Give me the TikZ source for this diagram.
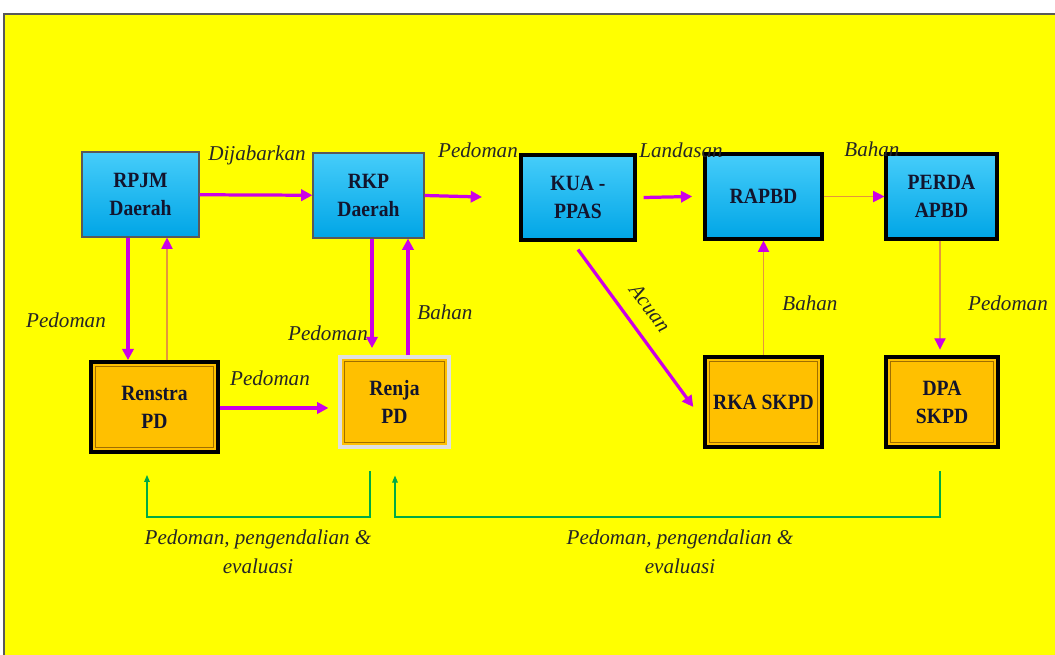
\documentclass[tikz,border=0pt]{standalone}
\usepackage{fontspec}
\setmainfont{Liberation Serif}
\newfontfamily\boxfont{Liberation Serif}[FakeStretch=0.9]
\usepackage{xcolor}
\usepackage{tikz}
\usetikzlibrary{arrows.meta,positioning}
\definecolor{bg}{RGB}{255,255,0}
\definecolor{mag}{RGB}{204,0,230}
\definecolor{tan}{RGB}{228,150,60}
\definecolor{grn}{RGB}{0,170,70}
\definecolor{ink}{RGB}{18,20,45}
\definecolor{bluetop}{RGB}{70,205,250}
\definecolor{bluebot}{RGB}{0,165,230}
\definecolor{orng}{RGB}{255,192,0}
\definecolor{frame}{RGB}{160,110,0}
\tikzset{
  blue/.style={draw=gray!70!black, line width=0.8pt, top color=bluetop,
  bottom color=bluebot, text=ink, align=center, minimum height=2.125cm,
  font=\boxfont\fontsize{15.5}{20}\selectfont\bfseries},
  bluebold/.style={blue, draw=black, line width=2.2pt},
  gold/.style={draw=black, line width=2.6pt, fill=orng, text=ink, align=center,
  minimum height=2.25cm, font=\boxfont\fontsize{15.5}{20}\selectfont\bfseries},
  innerframe/.style={draw=frame, line width=0.9pt},
  lbl/.style={font=\fontsize{15}{20.5}\selectfont\itshape, text=black!85,
  inner sep=1pt, align=center},
  thickarrow/.style={draw=mag, line width=2.3pt, -{Triangle[length=8pt,width=8pt]}},
  thinarrow/.style={draw=tan, line width=0.8pt,
  -{Triangle[length=8pt,width=8pt,color=mag]}},
  feedback/.style={draw=grn, line width=0.8pt, -{Triangle[length=5pt,width=4pt]}}
}
\begin{document}
\begin{tikzpicture}[x=0.025cm, y=-0.025cm]
    \useasboundingbox (0,0) rectangle (1055,655);
    \fill[white] (0,0) rectangle (1055,655);
    \fill[bg] (4,14) rectangle (1055,655);
    \draw[gray!70!black, line width=0.8pt] (4,655) -- (4,14) -- (1055,14);
    % top row
    \node (RPJM) [blue, minimum width=2.925cm] at (140.5,194.5) {RPJM\\Daerah};
    \node (RKP) [blue, minimum width=2.775cm] at (368.5,195.5) {RKP\\Daerah};
    \node (KUA) [bluebold, minimum width=2.85cm] at (578,197.5) {KUA -\\PPAS};
    \node (RAPBD) [bluebold, minimum width=2.925cm] at (763.5,196.5) {RAPBD};
    \node (PERDA) [bluebold, minimum width=2.775cm] at (941.5,196.5) {PERDA\\APBD};
    % bottom row
    \node (RENSTRA) [gold, minimum width=3.17cm] at (154.5,407) {Renstra\\PD};
    \node (RENJA) [gold, draw=white!88!black, minimum width=2.72cm] at (394.5,402) {Renja\\PD};
    \node (RKA) [gold, minimum width=2.925cm] at (763.5,402) {RKA SKPD};
    \node (DPA) [gold, minimum width=2.8cm] at (942,402) {DPA\\SKPD};
    \foreach \n in {RENSTRA,RENJA,RKA,DPA}
      \draw[innerframe] ([shift={(6,6)}]\n.north west) rectangle
      ([shift={(-6,-6)}]\n.south east);
    % lanes
    \coordinate (xa) at (128,0);
    \coordinate (xb) at (167,0);
    \coordinate (xc) at (372,0);
    \coordinate (xd) at (408,0);
    \coordinate (xe) at (147,0);
    \coordinate (xf) at (370,0);
    \coordinate (xg) at (395,0);
    \coordinate (xh) at (940,0);
    \coordinate (yb) at (0,517);
    \coordinate (P) at (482,197);
    % connectors
    \path (RPJM) edge [thickarrow] (RKP);
    \path (RKP.east) edge [thickarrow] (P);
    \path ([xshift=5pt]KUA.east) edge [thickarrow] ([xshift=-8pt]RAPBD.west);
    \path (RAPBD) edge [thinarrow] (PERDA);
    \path (RPJM.south -| xa) edge [thickarrow] (RENSTRA.north -| xa);
    \path (RENSTRA.north -| xb) edge [thinarrow] (RPJM.south -| xb);
    \path (RKP.south -| xc) edge [thickarrow] ([yshift=5pt]RENJA.north -| xc);
    \path (RENJA.north -| xd) edge [thickarrow] (RKP.south -| xd);
    \path (RENSTRA.east |- 0,408) edge [thickarrow] ([xshift=-7pt]RENJA.west |- 0,408);
    \path ([shift={(0,8)}]KUA.south) edge [thickarrow] ([xshift=-7pt]RKA.west |- 0,407);
    \path (RKA) edge [thinarrow] (RAPBD);
    \path (PERDA.south -| xh) edge [thinarrow] ([yshift=4pt]DPA.north -| xh);
    % feedback
    \draw[feedback, shorten <=16pt] (RENJA.south -| xf) -- (xf |- yb) -- (xe |- yb)
      -- ([yshift=-15pt]RENSTRA.south -| xe);
    \draw[feedback, shorten <=16pt] (DPA.south -| xh) -- (xh |- yb) -- (xg |- yb)
      -- ([yshift=-19pt]RENJA.south -| xg);
    % labels
    \node (L1) [lbl] at (257,155) {Dijabarkan};
    \node (L2) [lbl] at (478,150) {Pedoman};
    \node (L3) [lbl] at (681,150) {Landasan};
    \node (L4) [lbl] at (872,149) {Bahan};
    \node (L5) [lbl] at (66,320) {Pedoman};
    \node (L6) [lbl] at (270,378) {Pedoman};
    \node (L7) [lbl] at (328,333) {Pedoman};
    \node (L8) [lbl] at (445,312) {Bahan};
    \node (L9) [lbl, rotate=-53] at (650,308) {Acuan};
    \node (L10) [lbl] at (810,303) {Bahan};
    \node (L11) [lbl] at (1008,303) {Pedoman};
    \node (L12) [lbl] at (258,552) {Pedoman, pengendalian \&\\evaluasi};
    \node (L13) [lbl] at (680,552) {Pedoman, pengendalian \&\\evaluasi};
\end{tikzpicture}
\end{document}
